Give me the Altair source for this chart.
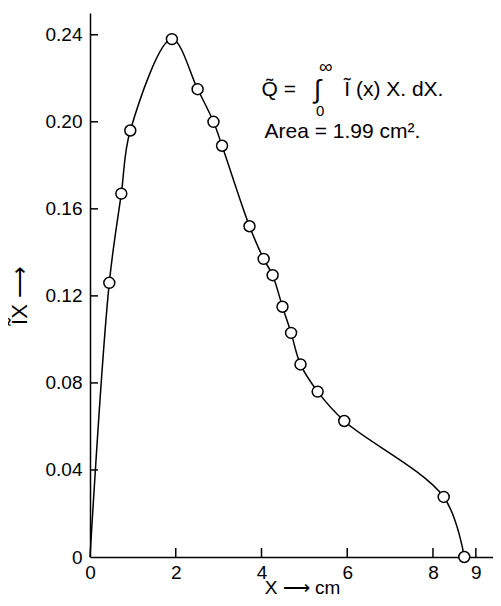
import altair as alt
import pandas as pd

# measured points (X in cm, IX)
x_pts = [0.45, 0.73, 0.94, 1.91, 2.51, 2.88, 3.08, 3.72, 4.05, 4.26, 4.49, 4.69, 4.91, 5.31, 5.93, 8.25, 8.73]
y_pts = [0.126, 0.167, 0.196, 0.238, 0.215, 0.200, 0.189, 0.152, 0.137, 0.1295, 0.115, 0.103, 0.0885, 0.076, 0.0625, 0.0276, 0.0]

# curve starts at origin
x_curve = [0.0] + x_pts
y_curve = [0.0] + y_pts

x_ticks = [0, 2, 4, 6, 8, 9]
y_ticks = [0, 0.04, 0.08, 0.12, 0.16, 0.20, 0.24]

ann_text = ["Q\u0303 =", "\u222B", "\u221E", "0", "\u0128 (x) X. dX.", "Area = 1.99  cm\u00B2."]
ann_x = [4.00, 5.30, 5.50, 5.37, 5.93, 4.07]
ann_y = [0.2145, 0.2145, 0.2252, 0.2050, 0.2145, 0.1953]
ann_size = [21, 26, 19, 15, 21, 21]
ann_align = ["left", "center", "center", "center", "left", "left"]

W, H = 403, 544
FONT = "Liberation Sans"

curve_df = pd.DataFrame({"x": x_curve, "y": y_curve})
pts_df = pd.DataFrame({"x": x_pts, "y": y_pts})
xt_df = pd.DataFrame({"x": [t for t in x_ticks if t != 0]})
yt_df = pd.DataFrame({"y": [t for t in y_ticks if t != 0]})
ann_df = pd.DataFrame({"x": ann_x, "y": ann_y, "t": ann_text, "s": ann_size, "a": ann_align})

xs = alt.Scale(domain=[0, 9.4], nice=False, zero=True)
ys = alt.Scale(domain=[0, 0.25], nice=False, zero=True)

x_axis = alt.Axis(values=x_ticks, tickSize=0, labelPadding=6, grid=False,
                  labelFontSize=19, labelFont=FONT, labelColor="black",
                  domainColor="black", domainWidth=1.5,
                  title="X \u27F6 cm", titleFontSize=19, titleFont=FONT,
                  titleFontWeight="normal", titleColor="black",
                  titleX=212, titleY=36, titleBaseline="alphabetic", titleAlign="center",
                  labelFlush=False)
y_axis = alt.Axis(values=y_ticks, tickSize=0, labelPadding=8, grid=False,
                  labelFontSize=19, labelFont=FONT, labelColor="black",
                  labelExpr="datum.value == 0 ? '0' : format(datum.value, '.2f')",
                  domainColor="black", domainWidth=1.5,
                  title="\u0128X \u27F6", titleFontSize=22, titleFont=FONT,
                  titleFontWeight="normal", titleColor="black",
                  titleX=-64, titleY=282, titleAngle=270, titleBaseline="alphabetic",
                  titleAlign="center",
                  labelFlush=False)

X = alt.X("x:Q", scale=xs, axis=x_axis)
Y = alt.Y("y:Q", scale=ys, axis=y_axis)

line = alt.Chart(curve_df).mark_line(interpolate="catmull-rom",
                                     color="black", strokeWidth=1.5).encode(
    x=X, y=Y,
)

pts = alt.Chart(pts_df).mark_point(shape="circle", size=120, filled=True, fill="white",
                                  stroke="black", strokeWidth=1.5, opacity=1).encode(
    x=X, y=Y,
)

xt = alt.Chart(xt_df).mark_rule(color="black", strokeWidth=1.5).encode(
    x=X, y=alt.value(H), y2=alt.value(H - 9),
)
yt = alt.Chart(yt_df).mark_rule(color="black", strokeWidth=1.5).encode(
    y=Y, x=alt.value(0), x2=alt.value(8),
)

def ann_layer(al):
    return alt.Chart(ann_df).transform_filter(alt.datum.a == al).mark_text(
        font=FONT, color="black", baseline="middle", align=al).encode(
        x=X, y=Y,
        text="t:N",
        size=alt.Size("s:Q", scale=None, legend=None),
    )

chart = alt.layer(line, xt, yt, pts, ann_layer("left"), ann_layer("center")).properties(
    width=W, height=H,
    padding={"left": 82, "top": 5, "right": 0, "bottom": 41},
    autosize="none",
    background="white",
).configure_view(stroke=None)

chart.save("out.html", embed_options={"renderer": "svg", "actions": False})
